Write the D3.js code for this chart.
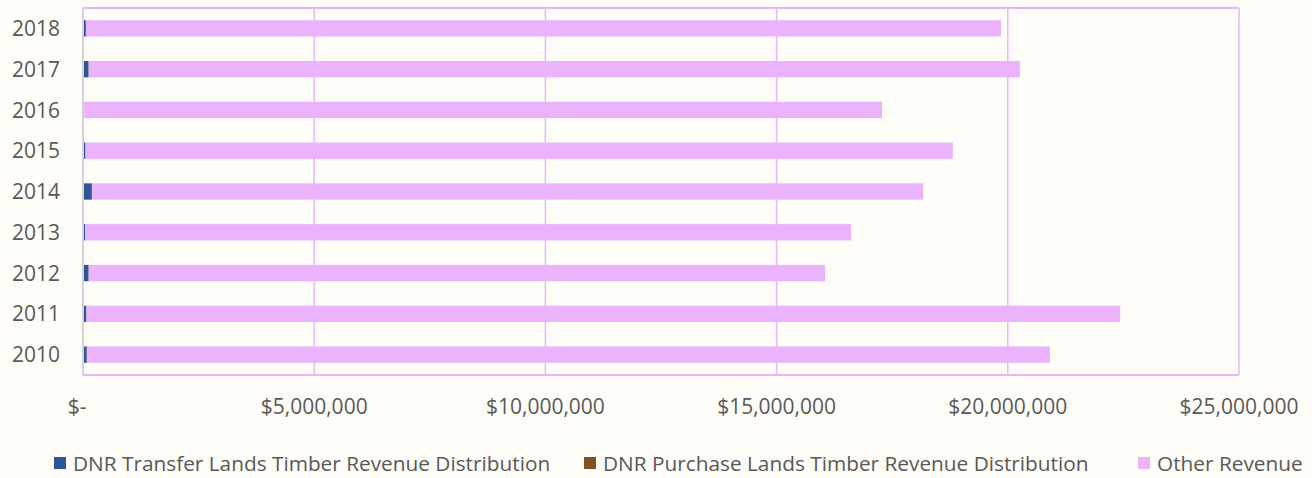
<!DOCTYPE html>
<html>
<head>
<meta charset="utf-8">
<script src="https://cdn.jsdelivr.net/npm/d3@7"></script>
<style>
  body { margin: 0; background: #fefdf8; }
  svg { display: block; }
  text { font-family: "Open Sans", sans-serif; fill: #595959; }
</style>
</head>
<body>
<svg id="chart"></svg>
<script>
var years = ["2010", "2011", "2012", "2013", "2014", "2015", "2016", "2017", "2018"];
var transferLands = [80000, 70000, 120000, 45000, 190000, 50000, 20000, 120000, 60000];
var purchaseLands = [5000, 5000, 5000, 5000, 5000, 5000, 5000, 5000, 5000];
var otherRevenue = [20825000, 22355000, 15925000, 16560000, 17975000, 18755000, 17255000, 20135000, 19785000];
var seriesNames = ["DNR Transfer Lands Timber Revenue Distribution", "DNR Purchase Lands Timber Revenue Distribution", "Other Revenue"];
var xTicks = [0, 5000000, 10000000, 15000000, 20000000, 25000000];

var colors = ["#2f5597", "#7f5228", "#eab3fc"];
var width = 1312, height = 478;
var margin = { top: 8, right: 73, bottom: 103, left: 83 };
var innerW = width - margin.left - margin.right;
var innerH = height - margin.top - margin.bottom;

var svg = d3.select("#chart").attr("width", width).attr("height", height);
var g = svg.append("g").attr("transform", "translate(" + margin.left + "," + margin.top + ")");

var rows = years.map(function (y, i) {
    return { year: y, transfer: transferLands[i], purchase: purchaseLands[i], other: otherRevenue[i] };
});
var stack = d3.stack().keys(["transfer", "purchase", "other"]);
var layers = stack(rows);

var x = d3.scaleLinear().domain([0, 25000000]).range([0, innerW]);
var y = d3.scaleBand().domain(years.slice().reverse()).range([0, innerH]).paddingInner(0.6).paddingOuter(0.3);

// gridlines
g.selectAll(".grid")
    .data(xTicks.slice(1))
    .enter()
    .append("line")
    .attr("x1", function (d) { return x(d); })
    .attr("x2", function (d) { return x(d); })
    .attr("y1", 0)
    .attr("y2", innerH)
    .attr("stroke", "#e9b6fb")
    .attr("stroke-width", 1.5);

// border top/bottom
g.append("line").attr("x1", 0).attr("x2", innerW).attr("y1", 0).attr("y2", 0)
    .attr("stroke", "#e9b6fb").attr("stroke-width", 2);
g.append("line").attr("x1", 0).attr("x2", innerW).attr("y1", innerH).attr("y2", innerH)
    .attr("stroke", "#e9b6fb").attr("stroke-width", 2);

// bars
g.selectAll(".layer")
    .data(layers)
    .enter()
    .append("g")
    .attr("fill", function (d, i) { return colors[i]; })
    .selectAll("rect")
    .data(function (d) { return d; })
    .enter()
    .append("rect")
    .attr("x", function (d) { return x(d[0]); })
    .attr("y", function (d) { return y(d.data.year); })
    .attr("width", function (d) { return x(d[1]) - x(d[0]); })
    .attr("height", y.bandwidth());

// left axis line
g.append("line").attr("x1", 0).attr("x2", 0).attr("y1", 0).attr("y2", innerH)
    .attr("stroke", "#d9d0dd").attr("stroke-width", 2);

// y labels
g.selectAll(".ylab")
    .data(years)
    .enter()
    .append("text")
    .attr("x", -23)
    .attr("y", function (d) { return y(d) + y.bandwidth() / 2; })
    .attr("dy", "0.36em")
    .attr("text-anchor", "end")
    .style("font-size", "21px")
    .text(function (d) { return d; });

// x labels
var fmt = d3.format("$,");
g.selectAll(".xlab")
    .data(xTicks)
    .enter()
    .append("text")
    .attr("x", function (d) { return d === 0 ? x(d) - 6 : x(d); })
    .attr("y", innerH + 39)
    .attr("text-anchor", "middle")
    .style("font-size", "21px")
    .text(function (d) { return d === 0 ? "$-" : fmt(d); });

// legend
var legendX = [54, 584, 1138];
var legend = svg.selectAll(".legend")
    .data(seriesNames)
    .enter()
    .append("g")
    .attr("transform", function (d, i) { return "translate(" + legendX[i] + ",457)"; });
legend.append("rect").attr("width", 12).attr("height", 12)
    .attr("fill", function (d, i) { return colors[i]; });
legend.append("text").attr("x", 19).attr("y", 6).attr("dy", "0.36em")
    .style("font-size", "20.8px")
    .text(function (d) { return d; });
</script>
</body>
</html>
